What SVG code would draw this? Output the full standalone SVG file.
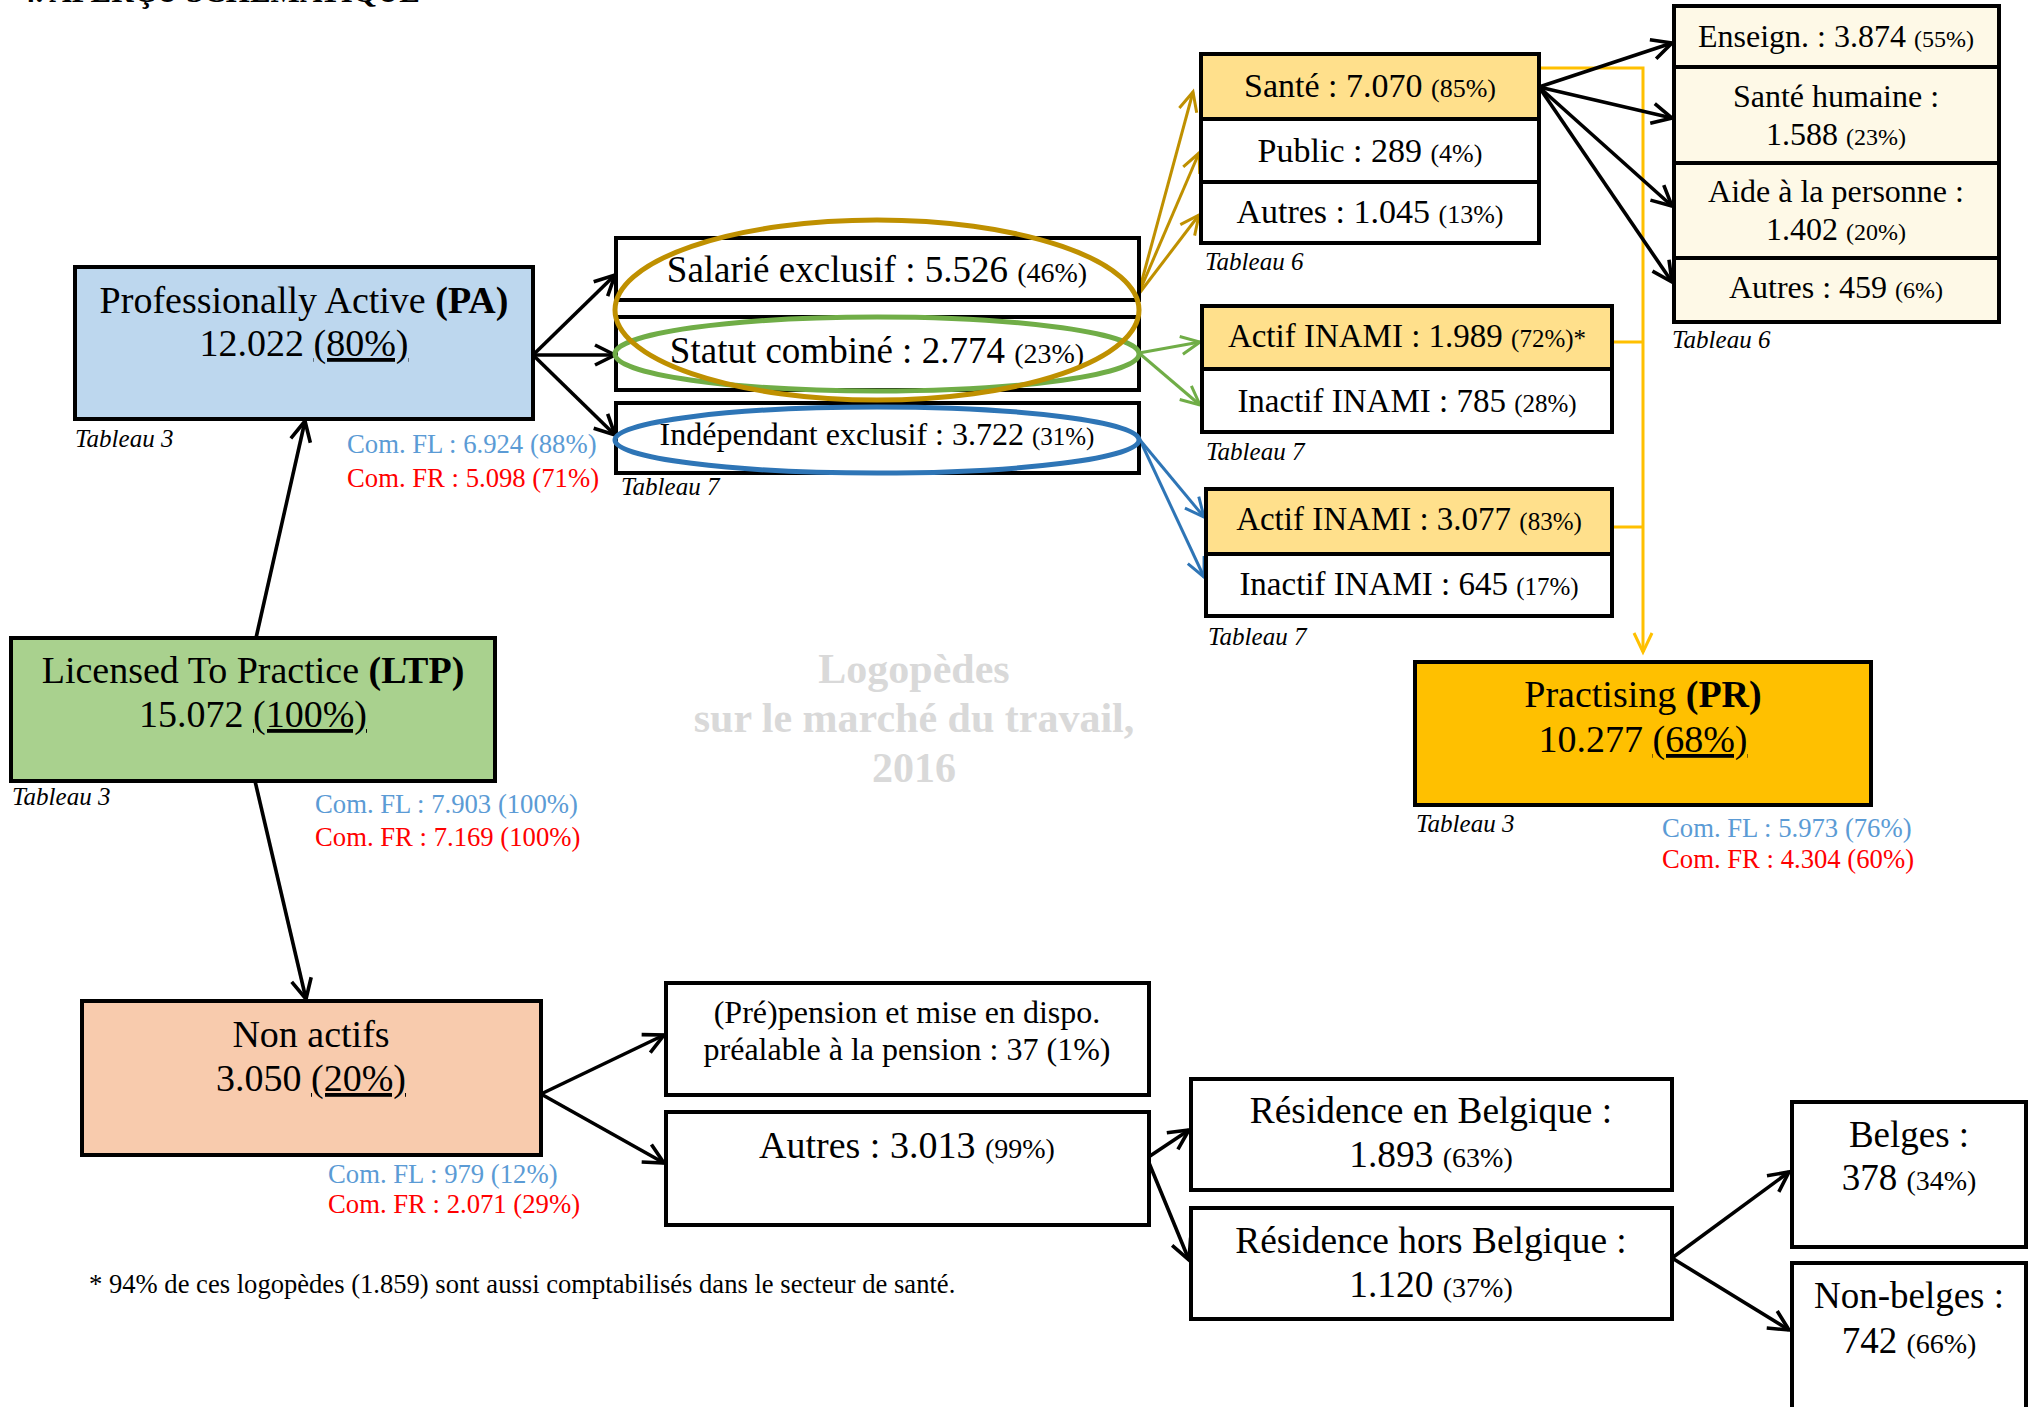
<svg xmlns="http://www.w3.org/2000/svg" width="2028" height="1407" viewBox="0 0 2028 1407">
<style>
text{font-family:"Liberation Serif","Times New Roman",serif;fill:#000}
.box{stroke:#000;stroke-width:4}
.c{text-anchor:middle}
.big{font-size:38px}
.tab{font-size:25px;font-style:italic}
.fl{font-size:26.7px;fill:#5B9BD5}
.fr{font-size:26.7px;fill:#FF0000}
.b{font-weight:bold}
.u{text-decoration:underline}
.ln{fill:none;stroke-width:3}
.k{stroke:#000;stroke-width:3.6}
.gd{stroke:#BF9000}
.gr{stroke:#70AD47}
.bl{stroke:#2E75B6}
.yl{stroke:#FFC000}
.wm{font-size:42px;font-weight:bold;fill:#D9D9D9;text-anchor:middle}
</style>
<defs>
<marker id="ak" viewBox="-24 -13 28 26" refX="0" refY="0" markerWidth="28" markerHeight="26" orient="auto" markerUnits="userSpaceOnUse"><path d="M-20,-10 L0,0 L-20,10" fill="none" stroke="#000" stroke-width="3.6"/></marker>
<marker id="agd" viewBox="-24 -13 28 26" refX="0" refY="0" markerWidth="28" markerHeight="26" orient="auto" markerUnits="userSpaceOnUse"><path d="M-19,-9 L0,0 L-19,9" fill="none" stroke="#BF9000" stroke-width="3"/></marker>
<marker id="agr" viewBox="-24 -13 28 26" refX="0" refY="0" markerWidth="28" markerHeight="26" orient="auto" markerUnits="userSpaceOnUse"><path d="M-19,-9 L0,0 L-19,9" fill="none" stroke="#70AD47" stroke-width="3"/></marker>
<marker id="abl" viewBox="-24 -13 28 26" refX="0" refY="0" markerWidth="28" markerHeight="26" orient="auto" markerUnits="userSpaceOnUse"><path d="M-19,-9 L0,0 L-19,9" fill="none" stroke="#2E75B6" stroke-width="3"/></marker>
<marker id="ayl" viewBox="-24 -13 28 26" refX="0" refY="0" markerWidth="28" markerHeight="26" orient="auto" markerUnits="userSpaceOnUse"><path d="M-19,-9 L0,0 L-19,9" fill="none" stroke="#FFC000" stroke-width="3"/></marker>
</defs>
<rect width="2028" height="1407" fill="#fff"/>

<text x="20" y="2" style="font-size:31px;font-weight:bold">4. APERÇU SCHÉMATIQUE</text>

<g id="watermark">
<text class="wm" x="914" y="683">Logopèdes</text>
<text class="wm" x="914" y="732">sur le marché du travail,</text>
<text class="wm" x="914" y="782">2016</text>
</g>

<g id="connectors">
<path class="ln yl" d="M1539,68 H1643 V652" marker-end="url(#ayl)"/>
<path class="ln yl" d="M1612,342 H1643 M1612,527 H1643"/>
<path class="ln k" d="M256,638 L305,421" marker-end="url(#ak)"/>
<path class="ln k" d="M255,781 L306,999" marker-end="url(#ak)"/>
<path class="ln k" d="M533,355 L615,275" marker-end="url(#ak)"/>
<path class="ln k" d="M533,355 L615,355" marker-end="url(#ak)"/>
<path class="ln k" d="M533,355 L615,435" marker-end="url(#ak)"/>
<path class="ln k" d="M541,1094 L664,1035" marker-end="url(#ak)"/>
<path class="ln k" d="M541,1094 L664,1163" marker-end="url(#ak)"/>
<path class="ln k" d="M1147,1158 L1189,1130" marker-end="url(#ak)"/>
<path class="ln k" d="M1147,1158 L1189,1260" marker-end="url(#ak)"/>
<path class="ln k" d="M1672,1258 L1789,1172" marker-end="url(#ak)"/>
<path class="ln k" d="M1672,1258 L1789,1330" marker-end="url(#ak)"/>
<path class="ln gd" d="M1138,295 L1193,92" marker-end="url(#agd)"/>
<path class="ln gd" d="M1138,295 L1199,153" marker-end="url(#agd)"/>
<path class="ln gd" d="M1138,295 L1199,215" marker-end="url(#agd)"/>
<path class="ln gr" d="M1139,353 L1200,342" marker-end="url(#agr)"/>
<path class="ln gr" d="M1139,353 L1200,405" marker-end="url(#agr)"/>
<path class="ln bl" d="M1140,440 L1204,517" marker-end="url(#abl)"/>
<path class="ln bl" d="M1140,440 L1204,577" marker-end="url(#abl)"/>
<path class="ln k" d="M1539,87 L1672,43" marker-end="url(#ak)"/>
<path class="ln k" d="M1539,87 L1672,118" marker-end="url(#ak)"/>
<path class="ln k" d="M1539,87 L1672,206" marker-end="url(#ak)"/>
<path class="ln k" d="M1539,87 L1672,282" marker-end="url(#ak)"/>
</g>

<g id="pa">
<rect class="box" x="75" y="267" width="458" height="152" fill="#BDD7EE"/>
<text class="c big" x="304" y="313">Professionally Active <tspan class="b">(PA)</tspan></text>
<text class="c big" x="304" y="356">12.022 <tspan class="u">(80%)</tspan></text>
<text class="tab" x="75" y="447">Tableau 3</text>
<text class="fl" x="347" y="453">Com. FL : 6.924 (88%)</text>
<text class="fr" x="347" y="487">Com. FR : 5.098 (71%)</text>
</g>

<g id="ltp">
<rect class="box" x="11" y="638" width="484" height="143" fill="#A9D18E"/>
<text class="c big" x="253" y="683">Licensed To Practice <tspan class="b">(LTP)</tspan></text>
<text class="c big" x="253" y="727">15.072 <tspan class="u">(100%)</tspan></text>
<text class="tab" x="12" y="805">Tableau 3</text>
<text class="fl" x="315" y="813">Com. FL : 7.903 (100%)</text>
<text class="fr" x="315" y="846">Com. FR : 7.169 (100%)</text>
</g>

<g id="nonactifs">
<rect class="box" x="82" y="1001" width="459" height="154" fill="#F8CBAD"/>
<text class="c big" x="311" y="1047">Non actifs</text>
<text class="c big" x="311" y="1091">3.050 <tspan class="u">(20%)</tspan></text>
<text class="fl" x="328" y="1183">Com. FL : 979 (12%)</text>
<text class="fr" x="328" y="1213">Com. FR : 2.071 (29%)</text>
</g>

<g id="pr">
<rect class="box" x="1415" y="662" width="456" height="143" fill="#FFC000"/>
<text class="c big" x="1643" y="707">Practising <tspan class="b">(PR)</tspan></text>
<text class="c big" x="1643" y="752">10.277 <tspan class="u">(68%)</tspan></text>
<text class="tab" x="1416" y="832">Tableau 3</text>
<text class="fl" x="1662" y="837">Com. FL : 5.973 (76%)</text>
<text class="fr" x="1662" y="868">Com. FR : 4.304 (60%)</text>
</g>

<g id="statuts">
<rect class="box" x="616" y="238" width="523" height="62" fill="#fff"/>
<text class="c" x="877" y="282" style="font-size:37px">Salarié exclusif : 5.526 <tspan style="font-size:28px">(46%)</tspan></text>
<rect class="box" x="616" y="317" width="523" height="73" fill="#fff"/>
<text class="c" x="877" y="363" style="font-size:37px">Statut combiné : 2.774 <tspan style="font-size:28px">(23%)</tspan></text>
<rect class="box" x="616" y="403" width="523" height="70" fill="#fff"/>
<text class="c" x="877" y="445" style="font-size:32px">Indépendant exclusif : 3.722 <tspan style="font-size:25px">(31%)</tspan></text>
<text class="tab" x="621" y="495">Tableau 7</text>
</g>

<g id="ellipses" fill="none" stroke-width="5">
<ellipse cx="877" cy="354" rx="262" ry="37" stroke="#70AD47"/>
<ellipse cx="877" cy="310" rx="262" ry="90" stroke="#BF9000"/>
<ellipse cx="877" cy="440" rx="262" ry="33" stroke="#2E75B6"/>
</g>

<g id="secteurs">
<rect class="box" x="1201" y="54" width="338" height="65" fill="#FFE08C"/>
<text class="c" x="1370" y="97" style="font-size:34px">Santé : 7.070 <tspan style="font-size:26px">(85%)</tspan></text>
<rect class="box" x="1201" y="119" width="338" height="63" fill="#fff"/>
<text class="c" x="1370" y="162" style="font-size:34px">Public : 289 <tspan style="font-size:26px">(4%)</tspan></text>
<rect class="box" x="1201" y="182" width="338" height="61" fill="#fff"/>
<text class="c" x="1370" y="223" style="font-size:34px">Autres : 1.045 <tspan style="font-size:26px">(13%)</tspan></text>
<text class="tab" x="1205" y="270">Tableau 6</text>
</g>

<g id="sante-detail">
<rect class="box" x="1674" y="6" width="325" height="61" fill="#FEF9E7"/>
<text class="c" x="1836" y="47" style="font-size:32px">Enseign. : 3.874 <tspan style="font-size:24px">(55%)</tspan></text>
<rect class="box" x="1674" y="67" width="325" height="96" fill="#FEF9E7"/>
<text class="c" x="1836" y="107" style="font-size:32px">Santé humaine :</text>
<text class="c" x="1836" y="145" style="font-size:32px">1.588 <tspan style="font-size:24px">(23%)</tspan></text>
<rect class="box" x="1674" y="163" width="325" height="95" fill="#FEF9E7"/>
<text class="c" x="1836" y="202" style="font-size:32px">Aide à la personne :</text>
<text class="c" x="1836" y="240" style="font-size:32px">1.402 <tspan style="font-size:24px">(20%)</tspan></text>
<rect class="box" x="1674" y="258" width="325" height="64" fill="#FEF9E7"/>
<text class="c" x="1836" y="298" style="font-size:32px">Autres : 459 <tspan style="font-size:24px">(6%)</tspan></text>
<text class="tab" x="1672" y="348">Tableau 6</text>
</g>

<g id="inami-combine">
<rect class="box" x="1202" y="306" width="410" height="63" fill="#FFE08C"/>
<text class="c" x="1407" y="347" style="font-size:33px">Actif INAMI : 1.989 <tspan style="font-size:25px">(72%)*</tspan></text>
<rect class="box" x="1202" y="369" width="410" height="63" fill="#fff"/>
<text class="c" x="1407" y="412" style="font-size:33px">Inactif INAMI : 785 <tspan style="font-size:25px">(28%)</tspan></text>
<text class="tab" x="1206" y="460">Tableau 7</text>
</g>

<g id="inami-independant">
<rect class="box" x="1206" y="489" width="406" height="65" fill="#FFE08C"/>
<text class="c" x="1409" y="530" style="font-size:33px">Actif INAMI : 3.077 <tspan style="font-size:25px">(83%)</tspan></text>
<rect class="box" x="1206" y="554" width="406" height="62" fill="#fff"/>
<text class="c" x="1409" y="595" style="font-size:33px">Inactif INAMI : 645 <tspan style="font-size:25px">(17%)</tspan></text>
<text class="tab" x="1208" y="645">Tableau 7</text>
</g>

<g id="pension">
<rect class="box" x="666" y="983" width="483" height="112" fill="#fff"/>
<text class="c" x="907" y="1023" style="font-size:32px">(Pré)pension et mise en dispo.</text>
<text class="c" x="907" y="1060" style="font-size:32px">préalable à la pension : 37 (1%)</text>
</g>

<g id="autres-na">
<rect class="box" x="666" y="1112" width="483" height="113" fill="#fff"/>
<text class="c" x="907" y="1158" style="font-size:38px">Autres : 3.013 <tspan style="font-size:28px">(99%)</tspan></text>
</g>

<g id="residence-be">
<rect class="box" x="1191" y="1079" width="481" height="111" fill="#fff"/>
<text class="c" x="1431" y="1123" style="font-size:37.4px">Résidence en Belgique :</text>
<text class="c" x="1431" y="1167" style="font-size:37.4px">1.893 <tspan style="font-size:28px">(63%)</tspan></text>
</g>

<g id="residence-hors">
<rect class="box" x="1191" y="1208" width="481" height="111" fill="#fff"/>
<text class="c" x="1431" y="1253" style="font-size:37.4px">Résidence hors Belgique :</text>
<text class="c" x="1431" y="1297" style="font-size:37.4px">1.120 <tspan style="font-size:28px">(37%)</tspan></text>
</g>

<g id="belges">
<rect class="box" x="1792" y="1102" width="234" height="145" fill="#fff"/>
<text class="c" x="1909" y="1147" style="font-size:37px">Belges :</text>
<text class="c" x="1909" y="1190" style="font-size:37px">378 <tspan style="font-size:28px">(34%)</tspan></text>
</g>

<g id="nonbelges">
<rect class="box" x="1792" y="1263" width="234" height="160" fill="#fff"/>
<text class="c" x="1909" y="1308" style="font-size:37px">Non-belges :</text>
<text class="c" x="1909" y="1353" style="font-size:37px">742 <tspan style="font-size:28px">(66%)</tspan></text>
</g>

<text x="89" y="1293" style="font-size:26.6px">* 94% de ces logopèdes (1.859) sont aussi comptabilisés dans le secteur de santé.</text>
</svg>
